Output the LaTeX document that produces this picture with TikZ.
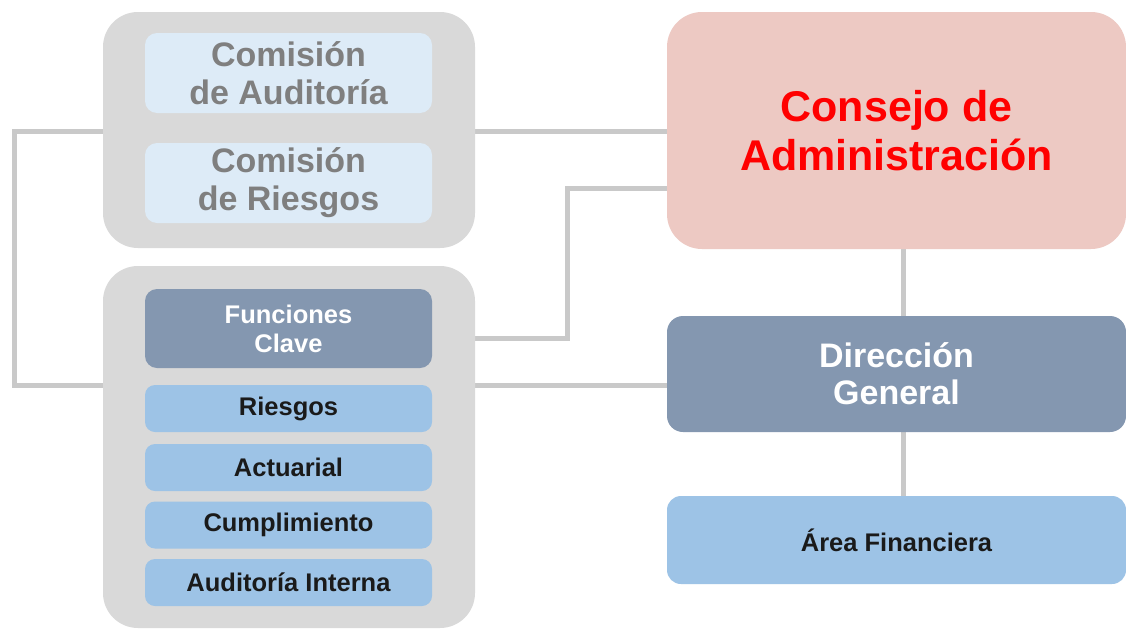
\documentclass[tikz,border=0pt]{standalone}
\usepackage{fontspec}
\setmainfont{Liberation Sans}
\definecolor{contgray}{HTML}{D9D9D9}
\definecolor{lightblue}{HTML}{DDEBF7}
\definecolor{midblue}{HTML}{9DC3E6}
\definecolor{slate}{HTML}{8497B0}
\definecolor{pinkbox}{HTML}{EDC9C3}
\definecolor{comtext}{HTML}{7F7F7F}
\definecolor{linegray}{HTML}{C9C9C9}
\definecolor{redtext}{HTML}{FF0000}
\definecolor{darktext}{HTML}{1A1A1A}
\begin{document}
\begin{tikzpicture}[x=1pt,y=-1pt,
  box/.style={rectangle, inner sep=0pt, outer sep=0pt, align=center, font=\bfseries},
  container/.style={box, fill=contgray, rounded corners=35pt, minimum width=372pt},
  combox/.style={box, fill=lightblue, rounded corners=12pt, minimum width=287pt, minimum height=80pt,
     text=comtext, font=\bfseries\fontsize{34}{38}\selectfont},
  funcbox/.style={box, fill=midblue, rounded corners=10pt, minimum width=287pt, minimum height=47pt,
     text=darktext, font=\bfseries\fontsize{25.5}{29}\selectfont},
  conn/.style={draw=linegray, line width=5pt}
]
\useasboundingbox (0,0) rectangle (1126,629);
\fill[white] (0,0) rectangle (1126,629);

% connectors (behind boxes)
\coordinate (lt) at (14,131);
\coordinate (lb) at (14,385);
\coordinate (ma) at (567,338);
\coordinate (mb) at (567,188);
\coordinate (mc) at (667,188);
\coordinate (md) at (475,338);
\coordinate (me) at (475,385);
\coordinate (mf) at (667,385);
\coordinate (mg) at (103,131);
\coordinate (mh) at (103,385);
\coordinate (va) at (903,249);
\coordinate (vb) at (903,316);
\coordinate (vc) at (903,432);
\coordinate (vd) at (903,496);

\draw[conn] (mg) -- (lt) -- (lb) -- (mh);
\draw[conn] (475,131) -- (667,131);
\draw[conn] (md) -- (ma) -- (mb) -- (mc);
\draw[conn] (me) -- (mf);
\draw[conn] (va) -- (vb);
\draw[conn] (vc) -- (vd);

% left containers
\node[container, minimum height=236pt] (topc) at (289,130) {};
\node[container, minimum height=362pt] (botc) at (289,447) {};

\node[combox] (ca) at (288.5,73) {Comisión\\de Auditoría};
\node[combox] (cr) at (288.5,183) {Comisión\\de Riesgos};

\node[box, fill=slate, rounded corners=12pt, minimum width=287pt, minimum height=79pt,
      text=white, font=\bfseries\fontsize{25.5}{29}\selectfont] (fc) at (288.5,328.5) {Funciones\\Clave};
\node[funcbox] (ri) at (288.5,408.5) {Riesgos};
\node[funcbox] (ac) at (288.5,467.5) {Actuarial};
\node[funcbox] (cu) at (288.5,525) {Cumplimiento};
\node[funcbox] (ai) at (288.5,582.5) {Auditoría Interna};

% right column
\node[box, fill=pinkbox, rounded corners=35pt, minimum width=459pt, minimum height=237pt,
      text=redtext, font=\bfseries\fontsize{43}{49}\selectfont] (consejo) at (896.5,130.5) {Consejo de\\Administración};
\node[box, fill=slate, rounded corners=16pt, minimum width=459pt, minimum height=116pt,
      text=white, font=\bfseries\fontsize{34}{37}\selectfont] (dg) at (896.5,374) {Dirección\\General};
\node[box, fill=midblue, rounded corners=14pt, minimum width=459pt, minimum height=88pt,
      text=darktext, font=\bfseries\fontsize{25.5}{29}\selectfont] (af) at (896.5,540) {Área Financiera};
\end{tikzpicture}
\end{document}
